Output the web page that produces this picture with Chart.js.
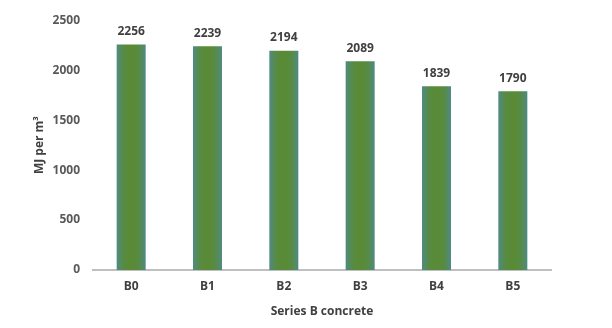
<!DOCTYPE html>
<html><head><meta charset="utf-8">
<script src="https://cdn.jsdelivr.net/npm/chart.js@4/dist/chart.umd.min.js"></script>
<style>html,body{margin:0;padding:0;background:#fff}</style>
</head><body>
<canvas id="c" width="612" height="328"></canvas>
<script>
const categories = ["B0","B1","B2","B3","B4","B5"];
const values = [2256, 2239, 2194, 2089, 1839, 1790];
const yTicks = [0, 500, 1000, 1500, 2000, 2500];
const xTitle = "Series B concrete";
const yTitle = "MJ per m³";

const FONT = "'Open Sans', 'Liberation Sans', sans-serif";

function barFill(ctx) {
  const chart = ctx.chart;
  const el = ctx.element;
  if (!el || !chart.chartArea || !Number.isFinite(el.x) || !Number.isFinite(el.width)) return "#5b8a37";
  const w = el.width;
  const x0 = el.x - w/2, x1 = el.x + w/2;
  const g = chart.ctx.createLinearGradient(x0, 0, x1, 0);
  g.addColorStop(0, "#4f8a86");
  g.addColorStop(0.22, "#578b45");
  g.addColorStop(0.5, "#5a8a33");
  g.addColorStop(0.78, "#578b45");
  g.addColorStop(1, "#4f8a86");
  return g;
}

const labelPlugin = {
  id: "vals",
  afterDatasetsDraw(chart) {
    const ctx = chart.ctx;
    const meta = chart.getDatasetMeta(0);
    ctx.save();
    ctx.font = "bold 12px " + FONT;
    ctx.fillStyle = "#404040";
    ctx.textAlign = "center";
    ctx.textBaseline = "middle";
    meta.data.forEach((el, i) => {
      ctx.fillText(String(values[i]), el.x, el.y - 13);
    });
    ctx.restore();
  }
};

const chart = new Chart(document.getElementById("c"), {
  type: "bar",
  data: {
    labels: categories,
    datasets: [{
      data: values,
      backgroundColor: barFill,
      borderWidth: 0,
      barPercentage: 0.76,
      categoryPercentage: 0.5
    }]
  },
  options: {
    responsive: false,
    animation: false,
    layout: { padding: { left: 30, right: 61, top: 20, bottom: 0 } },
    plugins: { legend: { display: false }, tooltip: { enabled: false } },
    scales: {
      x: {
        grid: { display: false, drawTicks: false },
        border: { display: true, color: "#bfbfbf", width: 2 },
        ticks: { color: "#404040", font: { family: FONT, size: 12, weight: "bold" }, padding: 9 },
        title: { display: true, text: xTitle, color: "#404040", font: { family: FONT, size: 12, weight: "bold" }, padding: { top: 4, bottom: 9 } },
        afterFit: s => { s.height = 58; }
      },
      y: {
        min: 0, max: 2500,
        afterBuildTicks: s => { s.ticks = yTicks.map(v => ({ value: v })); },
        grid: { display: false, drawTicks: false },
        border: { display: false },
        ticks: { color: "#595959", font: { family: FONT, size: 12, weight: "bold" }, padding: 13, callback: v => String(v) },
        title: { display: true, text: yTitle, color: "#404040", font: { family: FONT, size: 12, weight: "bold" }, padding: 2 },
        afterFit: s => { s.width = 63; }
      }
    }
  },
  plugins: [labelPlugin]
});
chart.update();
</script>
</body></html>
